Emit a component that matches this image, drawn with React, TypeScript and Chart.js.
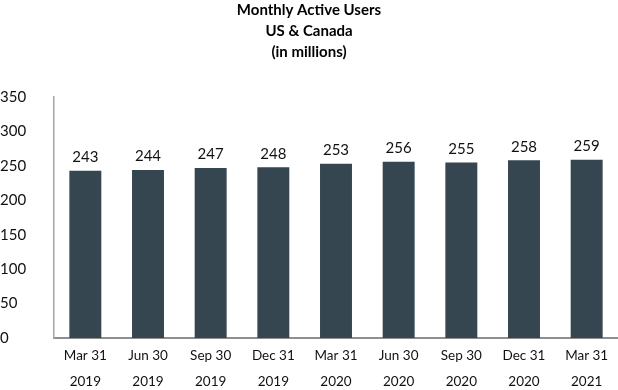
import React, { useEffect, useRef } from "react";
import { Chart, registerables } from "chart.js";

Chart.register(...registerables);

const titleLines = ["Monthly Active Users", "US & Canada", "(in millions)"];
const categories: string[][] = [
  ["Mar 31", "2019"],
  ["Jun 30", "2019"],
  ["Sep 30", "2019"],
  ["Dec 31", "2019"],
  ["Mar 31", "2020"],
  ["Jun 30", "2020"],
  ["Sep 30", "2020"],
  ["Dec 31", "2020"],
  ["Mar 31", "2021"],
];
const users = [243, 244, 247, 248, 253, 256, 255, 258, 259];
const yMax = 350;
const yStep = 50;

const FONT = "Lato, 'Open Sans', sans-serif";

const valueLabels = {
  id: "valueLabels",
  afterDatasetsDraw(chart: any) {
    const ctx = chart.ctx;
    const meta = chart.getDatasetMeta(0);
    ctx.save();
    ctx.font = `15px ${FONT}`;
    ctx.fillStyle = "#111";
    ctx.textAlign = "center";
    ctx.textBaseline = "bottom";
    meta.data.forEach((bar: any, i: number) => {
      ctx.fillText(String(users[i]), bar.x, bar.y - 6);
    });
    ctx.restore();
  },
};

export default function App() {
  const ref = useRef<HTMLCanvasElement>(null);
  useEffect(() => {
    if (!ref.current) return;
    const chart = new Chart(ref.current, {
      type: "bar",
      data: {
        labels: categories,
        datasets: [
          {
            data: users,
            backgroundColor: "#364651",
            barPercentage: 0.51,
            categoryPercentage: 1,
          },
        ],
      },
      plugins: [valueLabels],
      options: {
        animation: false,
        responsive: false,
        maintainAspectRatio: false,
        layout: { padding: { left: 0, right: 0, top: 0, bottom: 0 } },
        plugins: {
          legend: { display: false },
          tooltip: { enabled: false },
          title: {
            display: true,
            text: titleLines,
            color: "#000",
            font: { family: FONT, size: 15, weight: "bold", lineHeight: 1.4 },
            padding: { top: 0, bottom: 34 },
          },
        },
        scales: {
          x: {
            grid: { display: false, drawTicks: false },
            border: { display: true, color: "#8f8f8f", width: 2 },
            ticks: {
              color: "#111",
              font: { family: FONT, size: 13.5, lineHeight: 1.95 },
              padding: 4,
              maxRotation: 0,
              autoSkip: false,
            },
            afterFit: (s: any) => {
              s.height = 52;
            },
          },
          y: {
            min: 0,
            max: yMax,
            grid: { display: false, drawTicks: false },
            border: { display: true, color: "#a6a6a6", width: 1.5 },
            ticks: {
              stepSize: yStep,
              color: "#111",
              crossAlign: "far",
              font: { family: FONT, size: 15 },
            },
            afterFit: (s: any) => {
              s.width = 54;
            },
          },
        },
      },
    });
    return () => chart.destroy();
  }, []);
  return (
    <div style={{ position: "fixed", left: 0, top: 0, width: 618, height: 390, background: "#fff" }}>
      <canvas ref={ref} width={618} height={390} style={{ display: "block" }} />
    </div>
  );
}
